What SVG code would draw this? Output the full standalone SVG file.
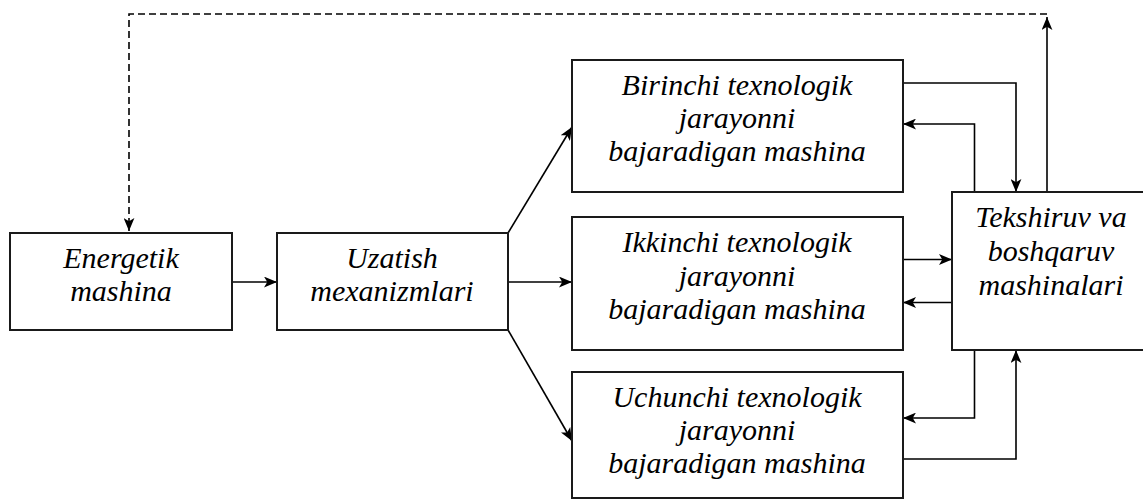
<svg xmlns="http://www.w3.org/2000/svg" width="1143" height="499" viewBox="0 0 1143 499">
<style>
.box{fill:#fff;stroke:#1a1a1a;stroke-width:2}
.t{font-size:30px;fill:#000;text-anchor:middle}
.c{fill:none;stroke:#000;stroke-width:1.6}
.d{fill:none;stroke:#000;stroke-width:1.6;stroke-dasharray:7,4}
</style>
<defs>
<marker id="ah" viewBox="0 0 12 10" refX="12" refY="5" markerWidth="13" markerHeight="11" markerUnits="userSpaceOnUse" orient="auto">
<path d="M0,0 L12,5 L0,10 L3,5 z" fill="#000"/>
</marker>
</defs>
<rect width="1143" height="499" fill="#fff"/>
<g id="connectors">
<path class="d" d="M1047,14 L129,14 L129,231" marker-end="url(#ah)"/>
<path class="c" d="M1047,192 L1047,17" marker-end="url(#ah)"/>
<path class="c" d="M232,282 L277,282" marker-end="url(#ah)"/>
<path class="c" d="M508,282 L572,282" marker-end="url(#ah)"/>
<path class="c" d="M508,233 L572,127" marker-end="url(#ah)"/>
<path class="c" d="M508,330 L572,441" marker-end="url(#ah)"/>
<path class="c" d="M903,83 L1016,83 L1016,192" marker-end="url(#ah)"/>
<path class="c" d="M974.5,192 L974.5,124 L903,124" marker-end="url(#ah)"/>
<path class="c" d="M903,259.5 L952,259.5" marker-end="url(#ah)"/>
<path class="c" d="M952,302.5 L903,302.5" marker-end="url(#ah)"/>
<path class="c" d="M974.5,350 L974.5,418 L903,418" marker-end="url(#ah)"/>
<path class="c" d="M903,459 L1016,459 L1016,350" marker-end="url(#ah)"/>
</g>
<g font-family="'Liberation Serif', serif" font-style="italic">
<g id="energetik">
<rect class="box" x="10" y="233" width="222" height="97"/>
<text class="t" x="121" y="268">Energetik</text>
<text class="t" x="121" y="301">mashina</text>
</g>
<g id="uzatish">
<rect class="box" x="277" y="233" width="231" height="97"/>
<text class="t" x="392" y="268">Uzatish</text>
<text class="t" x="392" y="301">mexanizmlari</text>
</g>
<g id="birinchi">
<rect class="box" x="572" y="60" width="331" height="132"/>
<text class="t" x="737" y="95">Birinchi texnologik</text>
<text class="t" x="737" y="128">jarayonni</text>
<text class="t" x="737" y="161">bajaradigan mashina</text>
</g>
<g id="ikkinchi">
<rect class="box" x="572" y="217" width="331" height="133"/>
<text class="t" x="737" y="252">Ikkinchi texnologik</text>
<text class="t" x="737" y="285.5">jarayonni</text>
<text class="t" x="737" y="319">bajaradigan mashina</text>
</g>
<g id="uchunchi">
<rect class="box" x="572" y="372" width="331" height="126"/>
<text class="t" x="737" y="406.5">Uchunchi texnologik</text>
<text class="t" x="737" y="440">jarayonni</text>
<text class="t" x="737" y="473">bajaradigan mashina</text>
</g>
<g id="tekshiruv">
<rect class="box" x="952" y="192" width="200" height="158"/>
<text class="t" x="1051" y="227">Tekshiruv va</text>
<text class="t" x="1051" y="261">boshqaruv</text>
<text class="t" x="1051" y="295">mashinalari</text>
</g>
</g>
</svg>
